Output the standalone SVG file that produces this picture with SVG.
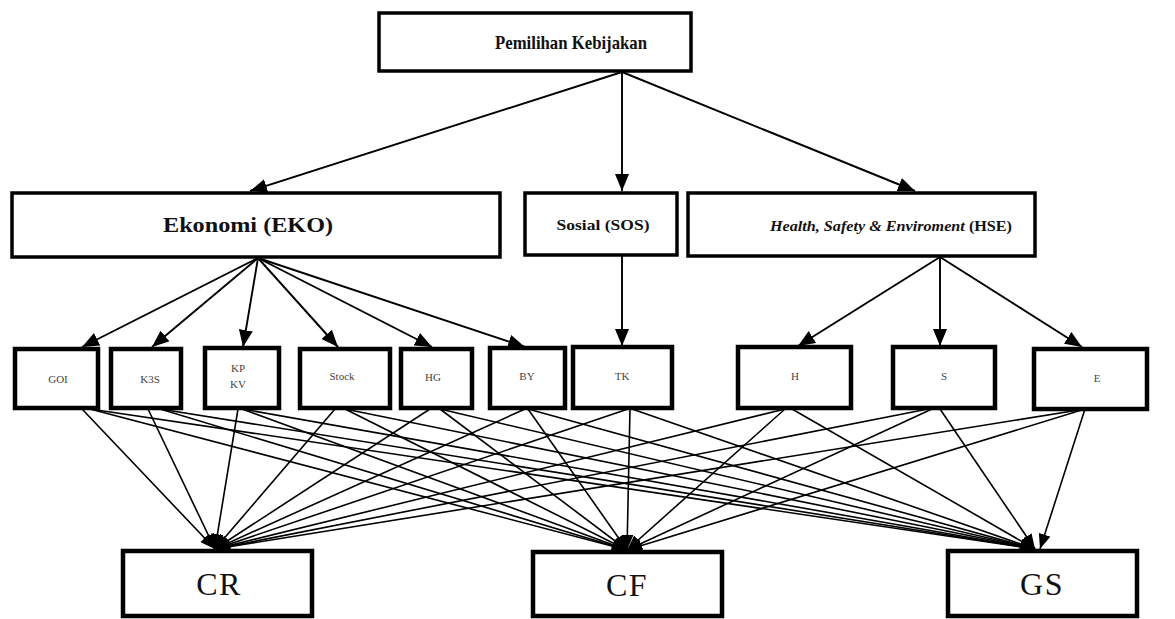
<svg xmlns="http://www.w3.org/2000/svg" width="1175" height="619" viewBox="0 0 1175 619">
<style>
.box{fill:#fff;stroke:#000;stroke-width:3.5}
.sbox{fill:#fff;stroke:#000;stroke-width:4.5}
.bbox{fill:#fff;stroke:#000;stroke-width:4.5}
.t1{font-family:"Liberation Serif",serif;font-weight:bold;fill:#111;text-anchor:middle}
.t3{font-family:"Liberation Serif",serif;font-size:11px;fill:#444;text-anchor:middle}
.t4{font-family:"Liberation Serif",serif;font-size:32px;fill:#111;text-anchor:middle;letter-spacing:1.5px}
.c{stroke:#000;stroke-width:1.9;fill:none;marker-end:url(#ah)}
.c2{stroke:#000;stroke-width:1.6;fill:none;marker-end:url(#ah2)}
</style>
<defs>
<marker id="ah" markerUnits="userSpaceOnUse" markerWidth="17" markerHeight="14" refX="17" refY="7" orient="auto">
<path d="M0,0 L17,7 L0,14 z" fill="#000"/>
</marker>
<marker id="ah2" markerUnits="userSpaceOnUse" markerWidth="15" markerHeight="12" refX="15" refY="6" orient="auto">
<path d="M0,0 L15,6 L0,12 z" fill="#000"/>
</marker>
</defs>
<rect width="1175" height="619" fill="#fff"/>
<g id="connectors">
<line class="c" x1="622" y1="72" x2="250" y2="191"/>
<line class="c" x1="622" y1="72" x2="622" y2="191"/>
<line class="c" x1="622" y1="72" x2="915" y2="191"/>
<line class="c" x1="258" y1="258" x2="82" y2="347"/>
<line class="c" x1="258" y1="258" x2="152" y2="347"/>
<line class="c" x1="258" y1="258" x2="243" y2="347"/>
<line class="c" x1="258" y1="258" x2="338" y2="347"/>
<line class="c" x1="258" y1="258" x2="432" y2="347"/>
<line class="c" x1="258" y1="258" x2="525" y2="347"/>
<line class="c" x1="622" y1="256" x2="622" y2="346"/>
<line class="c" x1="940" y1="257" x2="798" y2="346"/>
<line class="c" x1="940" y1="257" x2="940" y2="346"/>
<line class="c" x1="940" y1="257" x2="1082" y2="347"/>
<line class="c2" x1="82" y1="409" x2="215" y2="549"/>
<line class="c2" x1="90" y1="409" x2="627" y2="550"/>
<line class="c2" x1="90" y1="409" x2="1035" y2="549"/>
<line class="c2" x1="148" y1="409" x2="215" y2="549"/>
<line class="c2" x1="160" y1="409" x2="627" y2="550"/>
<line class="c2" x1="160" y1="409" x2="1035" y2="549"/>
<line class="c2" x1="238" y1="409" x2="215" y2="549"/>
<line class="c2" x1="242" y1="409" x2="627" y2="550"/>
<line class="c2" x1="242" y1="409" x2="1035" y2="549"/>
<line class="c2" x1="335" y1="409" x2="215" y2="549"/>
<line class="c2" x1="345" y1="409" x2="627" y2="550"/>
<line class="c2" x1="345" y1="409" x2="1035" y2="549"/>
<line class="c2" x1="430" y1="409" x2="215" y2="549"/>
<line class="c2" x1="440" y1="409" x2="627" y2="550"/>
<line class="c2" x1="440" y1="409" x2="1035" y2="549"/>
<line class="c2" x1="525" y1="409" x2="215" y2="549"/>
<line class="c2" x1="528" y1="409" x2="627" y2="550"/>
<line class="c2" x1="528" y1="409" x2="1035" y2="549"/>
<line class="c2" x1="628" y1="409" x2="215" y2="549"/>
<line class="c2" x1="630" y1="409" x2="627" y2="550"/>
<line class="c2" x1="632" y1="409" x2="1035" y2="549"/>
<line class="c2" x1="785" y1="409" x2="215" y2="549"/>
<line class="c2" x1="785" y1="409" x2="627" y2="550"/>
<line class="c2" x1="792" y1="409" x2="1035" y2="549"/>
<line class="c2" x1="928" y1="409" x2="215" y2="549"/>
<line class="c2" x1="932" y1="409" x2="627" y2="550"/>
<line class="c2" x1="940" y1="409" x2="1035" y2="549"/>
<line class="c2" x1="1085" y1="409" x2="215" y2="549"/>
<line class="c2" x1="1085" y1="409" x2="627" y2="550"/>
<line class="c2" x1="1085" y1="409" x2="1040" y2="549"/>
</g>
<g id="n-pemilihan">
<rect class="box" x="379" y="13" width="312" height="58"/>
<text class="t1" x="571" y="49" font-size="19" textLength="152" lengthAdjust="spacingAndGlyphs">Pemilihan Kebijakan</text>
</g>
<g id="n-eko">
<rect class="box" x="12" y="193" width="488" height="64"/>
<text class="t1" x="248" y="232" font-size="20" textLength="170" lengthAdjust="spacingAndGlyphs">Ekonomi (EKO)</text>
</g>
<g id="n-sos">
<rect class="box" x="525" y="193" width="152" height="62"/>
<text class="t1" x="603" y="230" font-size="15" textLength="93" lengthAdjust="spacingAndGlyphs">Sosial (SOS)</text>
</g>
<g id="n-hse">
<rect class="box" x="688" y="193" width="347" height="63"/>
<text class="t1" x="891" y="231" font-size="15" textLength="242" lengthAdjust="spacingAndGlyphs"><tspan font-style="italic">Health, Safety &amp; Enviroment</tspan> (HSE)</text>
</g>
<g id="n-goi"><rect class="sbox" x="15" y="349" width="83" height="59"/><text class="t3" x="58" y="383">GOI</text></g>
<g id="n-k3s"><rect class="sbox" x="111" y="349" width="70" height="59"/><text class="t3" x="150" y="383">K3S</text></g>
<g id="n-kpkv"><rect class="sbox" x="205" y="348" width="74" height="60"/><text class="t3" x="238" y="372">KP</text><text class="t3" x="238" y="388">KV</text></g>
<g id="n-stock"><rect class="sbox" x="300" y="349" width="90" height="59"/><text class="t3" x="342" y="380">Stock</text></g>
<g id="n-hg"><rect class="sbox" x="401" y="349" width="71" height="59"/><text class="t3" x="433" y="381">HG</text></g>
<g id="n-by"><rect class="sbox" x="490" y="348" width="75" height="60"/><text class="t3" x="527" y="380">BY</text></g>
<g id="n-tk"><rect class="sbox" x="573" y="347" width="99" height="61"/><text class="t3" x="622" y="380">TK</text></g>
<g id="n-h"><rect class="sbox" x="738" y="347" width="113" height="61"/><text class="t3" x="795" y="380">H</text></g>
<g id="n-s"><rect class="sbox" x="893" y="347" width="102" height="61"/><text class="t3" x="944" y="380">S</text></g>
<g id="n-e"><rect class="sbox" x="1034" y="349" width="113" height="60"/><text class="t3" x="1097" y="382">E</text></g>
<g id="n-cr"><rect class="bbox" x="123" y="551" width="189" height="65"/><text class="t4" x="219" y="595">CR</text></g>
<g id="n-cf"><rect class="bbox" x="533" y="552" width="189" height="64"/><text class="t4" x="627" y="596">CF</text></g>
<g id="n-gs"><rect class="bbox" x="948" y="551" width="189" height="65"/><text class="t4" x="1042" y="595">GS</text></g>
</svg>
